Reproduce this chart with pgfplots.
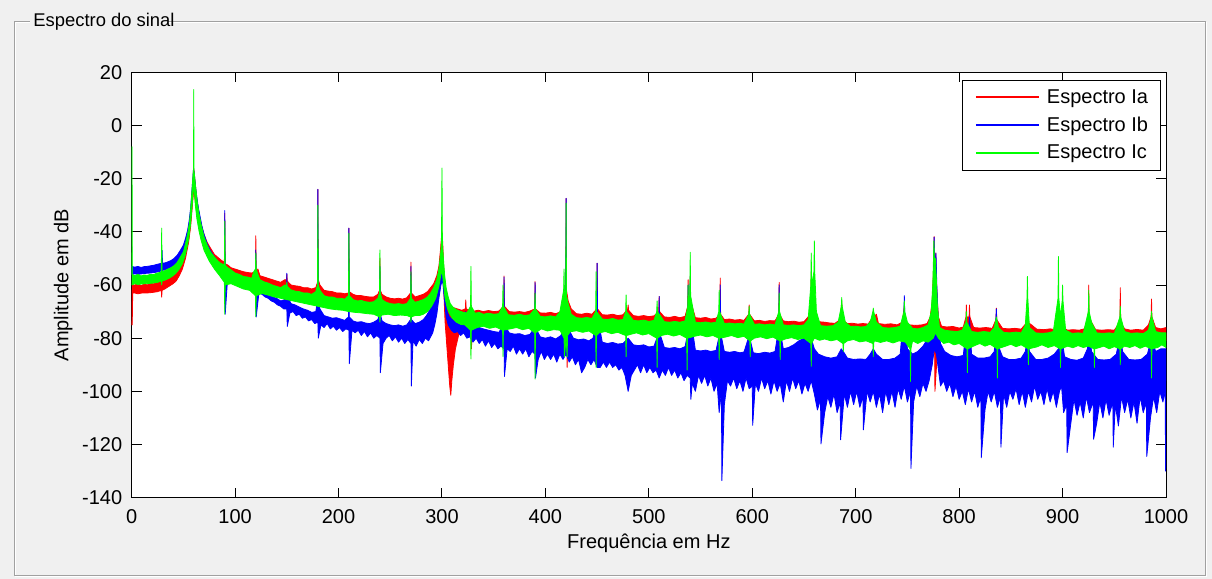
\documentclass[border=0pt]{standalone}
\usepackage{fontspec}
\setmainfont{Liberation Sans}
\usepackage{pgfplots}
\pgfplotsset{compat=1.18}
\definecolor{mred}{RGB}{255,0,0}
\definecolor{mblue}{RGB}{0,0,255}
\definecolor{mgreen}{RGB}{0,255,0}
\definecolor{bgc}{RGB}{240,240,240}
\definecolor{framec}{RGB}{160,160,160}
\begin{document}
\begin{tikzpicture}
\fill[bgc] (-65.85pt,-40.65pt) rectangle (540.15pt,248.85pt);
\draw[white, line width=0.5pt] (-50.85pt,237.35pt) -- (-57.85pt,237.35pt) -- (-57.85pt,-39.15pt) -- (537.15pt,-39.15pt) -- (537.15pt,237.35pt) -- (18.15pt,237.35pt);
\draw[framec, line width=0.5pt] (-50.85pt,237.85pt) -- (-58.35pt,237.85pt) -- (-58.35pt,-38.65pt) -- (536.65pt,-38.65pt) -- (536.65pt,237.85pt) -- (18.15pt,237.85pt);
\node[anchor=base west, inner sep=0pt, font=\fontsize{9.2}{11}\selectfont] at (-49.35pt,235.6pt) {Espectro do sinal};
\begin{axis}[
  at={(0pt,0pt)}, anchor=south west,
  width=517.15pt, height=212.7pt, scale only axis,
  xmin=0, xmax=1000, ymin=-140, ymax=20,
  xtick={0,100,...,1000}, ytick={-140,-120,...,20},
  tick align=inside, major tick length=5pt,
  every tick/.style={black, line width=0.5pt},
  axis line style={black, line width=0.5pt},
  axis background/.style={fill=white},
  ticklabel style={font=\fontsize{10}{12}\selectfont},
  xticklabel style={yshift=-2.2pt},
  yticklabel style={xshift=-1.2pt},
  /pgf/number format/assume math mode=true,
  /pgf/number format/1000 sep={},
  xlabel={Frequência em Hz},
  ylabel={Amplitude em dB},
  label style={font=\fontsize{10}{12}\selectfont},
  xlabel style={at={(axis description cs:0.5,-0.119)}, anchor=base},
  ylabel style={at={(axis description cs:-0.0662,0.5)}, anchor=center},
  legend style={at={(axis description cs:1,1)}, anchor=north east, xshift=-2.5pt, yshift=-3.85pt,
    draw=black, line width=0.5pt, fill=white, font=\fontsize{10}{12}\selectfont,
    inner xsep=6.2pt, inner ysep=4.4pt, row sep=5.4pt, column sep=3.7pt,
    nodes={inner sep=0pt, anchor=base west}},
  legend cell align=left,
  legend image code/.code={\draw[#1] (0pt,0.3em) -- (31.3pt,0.3em);},
]
\addlegendimage{draw=mred, line width=1pt}\addlegendentry{Espectro Ia}
\addlegendimage{draw=mblue, line width=1pt}\addlegendentry{Espectro Ib}
\addlegendimage{draw=mgreen, line width=1pt}\addlegendentry{Espectro Ic}

% ---- Espectro Ia (upper envelope, then lower envelope back) ----
\addplot[forget plot, draw=mred, fill=mred, line width=0.4pt, line join=round] coordinates {
(0,-75) (0.5,-60) (3,-60) (6,-59.5) (9,-60.3) (12,-59.6) (15,-60) (18,-59.3) (21,-59.6) (24,-59) (27,-58.8) (28.6,-58.5) (29,-58) (29.4,-58.5) (32,-57.8) (35,-57) (38,-56.5) (41,-55.5) (44,-54) (47,-52) (50,-50) (52,-47) (54,-44) (56,-39) (57.5,-33) (58.5,-27) (59.3,-21) (59.8,-16) (60.3,-17) (61,-20) (62,-24) (63,-28) (65,-33) (67,-37) (70,-41) (73,-44) (76,-46) (80,-48.5) (83,-49.5) (86,-50.5) (89.6,-51.5) (90,-33) (90.4,-52) (93,-52.5) (96,-53.5) (100,-54) (104,-54.5) (108,-55) (112,-55.3) (116,-55.5) (119.6,-55) (120,-41.5) (120.4,-55) (122,-54) (124,-56.5) (128,-57) (132,-57.5) (136,-58) (140,-58.5) (144,-59) (148,-58) (149.6,-58) (150,-56) (150.4,-58.5) (154,-60) (158,-60.3) (162,-60.5) (166,-61) (170,-61) (174,-61.5) (178,-61) (179.6,-59) (180,-24) (180.4,-58) (182,-60) (186,-62) (190,-62.3) (194,-62.5) (198,-63) (202,-63) (206,-63.3) (209.6,-63) (210,-38.6) (210.4,-62.5) (214,-63.5) (218,-64) (222,-64) (226,-64.3) (230,-64.5) (234,-64.5) (238,-63.5) (239.6,-62) (240,-50) (240.4,-62) (242,-63.5) (246,-64.5) (250,-65) (254,-65.2) (258,-65) (262,-65.3) (266,-64.8) (269.6,-63) (270,-51.4) (270.4,-63) (274,-64.5) (278,-64) (282,-63.5) (286,-62.5) (289,-61) (292,-59.5) (295,-56.5) (297,-53) (298.5,-47) (299.5,-42) (300,-40) (300.7,-44) (301.5,-52) (302.5,-58) (304,-63) (306,-66) (308,-67.5) (311,-68.5) (315,-69) (319,-69.5) (322.6,-69) (323,-65.6) (323.4,-69) (327,-69.5) (331,-69.8) (335,-69.5) (340,-70) (345,-69.6) (350,-70) (355,-69.8) (359.6,-68) (360,-56.6) (360.4,-68) (365,-70) (370,-70.2) (375,-70) (380,-70.3) (385,-69.8) (389.6,-69) (390,-58.7) (390.4,-69) (395,-70.5) (400,-70.6) (405,-70.3) (410,-70.8) (415,-70) (418,-67) (419.6,-64) (420,-27.4) (420.4,-62) (422,-66) (425,-69) (430,-70.8) (435,-71) (440,-70.6) (445,-71) (449.6,-69) (450,-51.8) (450.4,-69) (455,-71.2) (460,-71.3) (465,-71) (470,-71.5) (475,-71.2) (479.6,-69) (480,-67.5) (480.4,-69.5) (485,-71.5) (490,-71.8) (495,-71.5) (500,-71.9) (505,-71.6) (509.6,-70) (510,-64.3) (510.4,-70) (515,-72) (520,-72.2) (525,-71.8) (530,-72.3) (535,-71.8) (537.6,-68) (538,-58) (538.4,-68) (539.6,-66) (540,-56.8) (540.4,-66) (545,-72.3) (550,-72.5) (555,-72.2) (560,-72.8) (565,-72.5) (568.6,-71) (569,-57.4) (569.4,-71) (573,-73) (578,-72.8) (583,-73.2) (588,-73) (592,-73.3) (596.6,-71) (597,-67.5) (597.4,-71) (602,-73.5) (607,-73.3) (612,-73.7) (617,-73.4) (622,-73.5) (625.6,-71) (626,-59) (626.4,-71) (630,-73.5) (635,-73.8) (640,-73.6) (645,-74) (650,-73.8) (654,-72) (656.6,-70) (657,-55) (657.4,-70) (659.6,-70) (660,-58) (660.4,-70) (664,-73.8) (670,-74) (675,-74.3) (680,-74.4) (685,-73) (686.5,-66) (687,-73) (692,-74.5) (697,-74.4) (702,-74.7) (707,-74.5) (712,-74.7) (716.6,-72) (717,-70) (717.4,-72) (720,-71) (722,-74.5) (728,-74.8) (734,-74.6) (740,-75) (745,-74) (747,-68) (747.4,-74) (752,-75) (758,-75.2) (764,-75) (769,-74.5) (772,-72) (774,-66) (775.4,-52) (775.8,-41.8) (776.4,-55) (777.4,-48) (778,-58) (779,-66) (780,-72) (783,-75.5) (788,-75.8) (794,-75.6) (800,-76.2) (804,-75.8) (806.6,-72) (807,-67.5) (807.4,-72) (809.6,-72) (810,-67.5) (810.4,-72) (814,-76) (820,-76.2) (826,-76) (832,-76.3) (835.6,-73) (836,-68.7) (836.4,-73) (838,-74) (842,-76.3) (848,-76.5) (854,-76.3) (860,-76.6) (865.6,-74) (866,-70) (866.4,-74) (870,-75) (875,-76.6) (882,-76.8) (888,-76.5) (893,-76.8) (896.1,-74) (896.5,-70) (896.9,-74) (900,-76) (905,-77) (910,-76.8) (916,-77) (921,-76.5) (924.9,-72) (925.3,-60) (925.7,-72) (928,-74) (932,-76.8) (938,-77) (944,-76.8) (950,-77) (955.4,-74) (955.8,-61) (956.2,-74) (960,-76.5) (966,-77) (972,-76.7) (978,-77) (983,-75) (985.6,-72) (986,-65.3) (986.4,-72) (990,-76) (995,-76.5) (1000,-76)
(1000,-81) (950,-81.5) (900,-81) (850,-80.5) (800,-80) (780,-79) (776.6,-100) (776.2,-80) (760,-79.5) (700,-79) (650,-78) (600,-77.5) (550,-77) (500,-76.5) (450,-76) (422,-75.5) (421,-91) (420.6,-75) (400,-75) (350,-74.5) (330,-74) (328.4,-84) (328,-74) (320,-76) (316,-79) (313,-84) (311,-90) (309.5,-96) (308.5,-101.5) (307.5,-98) (306,-90) (304.5,-82) (303,-74) (301.5,-60) (300,-52) (298,-60) (295,-64) (290,-66) (280,-68) (270,-69) (250,-69) (220,-68.5) (200,-67) (180,-66) (150,-63) (120,-60) (100,-58) (90,-56) (80,-52) (70,-45) (65,-37) (62,-30) (60,-24) (58.5,-31) (57,-38) (55,-44) (52,-50) (49,-54) (46,-56.5) (43,-58.5) (40,-59.5) (36,-60.5) (32,-61.5) (29.4,-62) (29,-64.6) (28.6,-62) (25,-62.5) (20,-62.8) (15,-63) (10,-63) (6,-63.3) (3,-63) (1,-63) (0.5,-75) (0,-75)
};

% ---- Espectro Ib ----
\addplot[forget plot, draw=mblue, fill=mblue, line width=0.4pt, line join=round] coordinates {
(0,-53) (3,-53.3) (6,-53) (9,-53.4) (12,-53.1) (15,-53) (18,-52.8) (21,-52.6) (24,-52.3) (27,-52) (29,-51.8) (29.4,-47) (29.8,-51.8) (32,-51.7) (35,-51.3) (38,-50.8) (41,-50) (44,-48.8) (47,-47) (50,-45) (52,-42.5) (54,-39.5) (55.5,-36) (57,-31) (58.3,-24) (59.3,-19) (59.8,-16) (60.4,-18) (61.2,-21) (62,-24) (63,-27) (64.5,-31) (66,-34) (68,-38) (70,-41) (73,-44.5) (76,-47) (80,-49.5) (83,-51) (86,-52.3) (89.6,-53.2) (90,-32) (90.4,-53.5) (93,-54.5) (96,-55.5) (100,-57) (104,-57.8) (108,-59) (112,-59.8) (116,-60.5) (119.6,-60) (120,-46.8) (120.4,-60) (122,-58) (124,-62) (128,-62.8) (132,-63.5) (136,-64.5) (140,-65) (144,-66) (148,-65.5) (149.6,-64) (150,-55.6) (150.4,-64) (154,-67) (158,-67.5) (162,-68.3) (166,-69) (170,-69.5) (174,-70.3) (178,-70) (179.6,-66) (180,-24) (180.4,-66) (182,-69) (186,-71.5) (190,-72) (194,-72.5) (198,-72.3) (202,-72.8) (206,-73.3) (209.6,-72) (210,-38.6) (210.4,-72) (214,-73.5) (218,-74) (222,-73.8) (226,-74.3) (230,-74.5) (234,-74) (238,-73) (239.6,-71) (240,-53) (240.4,-71) (242,-73.5) (246,-74.5) (250,-75) (254,-75.3) (258,-75) (262,-75.5) (266,-75) (269.6,-73) (270,-53) (270.4,-73) (274,-74.5) (278,-74) (282,-73) (285,-71.5) (288,-69.5) (291,-67) (294,-63.5) (296,-60) (298,-56) (299.5,-53) (300.5,-53) (302,-58) (303.5,-65) (305,-70) (307,-72) (310,-73) (313,-74) (316,-74.5) (320,-74) (323,-70) (324,-74) (328,-75) (332,-75.5) (336,-76) (340,-76.5) (345,-77) (350,-77.5) (355,-77.8) (359.6,-75) (360,-57) (360.4,-75) (365,-78) (370,-78.5) (375,-78.3) (380,-79) (385,-78.6) (389.6,-76) (390,-59) (390.4,-76) (395,-79.5) (400,-80) (405,-79.5) (410,-80.3) (415,-79) (418,-76) (419.6,-70) (420,-27.4) (420.4,-70) (423,-77) (427,-80) (432,-80.6) (437,-80.3) (442,-81) (446,-80) (449.6,-72) (450,-51.8) (450.4,-72) (455,-81.5) (460,-82) (465,-81.6) (470,-82.2) (475,-82) (480,-80) (485,-82.5) (490,-82.8) (495,-82.5) (500,-83.3) (505,-83) (509.6,-78) (510,-64.3) (510.4,-78) (515,-83.5) (520,-83.8) (525,-83.5) (530,-84) (535,-83.2) (537.6,-78) (538,-60) (538.4,-78) (539.6,-72) (540,-56.8) (540.4,-72) (545,-84.5) (550,-84.8) (555,-84.5) (560,-85) (565,-84.6) (568.6,-78) (569,-60) (569.4,-78) (573,-85) (578,-85.3) (583,-85) (588,-85.5) (592,-85.2) (597,-79) (601,-85.5) (606,-85.8) (612,-85.3) (617,-85.6) (622,-85) (625.6,-76) (626,-60) (626.4,-76) (630,-84) (635,-83.5) (640,-82.5) (645,-81) (650,-80) (654,-79.5) (657,-80) (660,-84) (664,-86) (670,-87) (676,-87.5) (682,-87) (686,-84) (688,-85) (692,-87.5) (698,-88) (704,-87.8) (710,-88) (714,-86) (717,-84) (720,-86) (726,-88) (732,-88) (738,-87.5) (743,-86) (746.6,-70) (747,-64) (747.4,-70) (750,-84) (755,-86) (760,-85) (765,-83) (770,-80) (773,-76) (775,-68) (775.8,-42) (776.4,-55) (777.6,-48) (778.4,-60) (780,-76) (782,-82) (786,-85) (792,-86.5) (798,-87) (804,-86.5) (807,-76) (808,-85) (810,-72) (812,-86) (818,-87.5) (824,-87.5) (830,-87) (834,-85) (836,-69) (837,-82) (842,-87) (848,-88) (854,-88) (860,-87.5) (864,-85) (866,-80) (868,-85) (874,-88) (880,-88) (886,-87.5) (892,-86) (896,-84) (900,-82) (902,-87) (908,-88) (914,-88.3) (920,-87.5) (924,-84) (925.6,-76) (928,-85) (934,-88) (940,-88.2) (946,-88) (952,-86) (955.8,-78) (958,-85) (964,-88) (970,-88.2) (976,-88) (982,-86) (986,-80) (990,-85) (995,-84) (1000,-84)
(1000,-96) (999.6,-130) (999.2,-100) (997,-104) (994,-100) (991,-108) (988,-102) (985,-110) (981.4,-124.5) (981,-104) (978,-108) (975,-102) (972,-112) (969,-104) (966,-110) (963,-103) (960,-108) (957,-102) (954,-113) (951,-105) (949,-121) (948.6,-104) (945,-109) (942,-103) (939,-110) (936,-104) (933,-112) (930,-118) (929.6,-104) (926,-108) (923,-102) (920,-110) (917,-104) (914,-109) (911,-103) (908,-112) (904.4,-123) (904,-105) (901,-108) (899,-98) (897,-100) (894,-106) (891,-100) (888,-104) (885,-99) (882,-105) (879,-100) (876,-103) (873,-98) (870,-104) (867,-100) (864,-106) (861,-100) (858,-105) (855,-99) (852,-103) (849,-100) (846,-106) (843,-101) (840.4,-121) (840,-102) (837,-106) (834,-100) (831,-104) (828,-100) (825,-107) (821.4,-125) (821,-102) (818,-106) (815,-100) (812,-104) (809,-99) (806,-105) (803,-100) (800,-103) (797,-98) (794,-102) (791,-97) (788,-100) (785,-96) (782,-98) (780,-92) (778,-86) (776,-84) (774,-90) (771,-96) (768,-100) (765,-97) (762,-102) (759,-98) (756,-104) (753.4,-129) (753,-100) (750,-104) (747,-98) (744,-103) (741,-99) (738,-106) (735,-100) (732,-105) (729,-100) (726,-108) (723,-101) (720,-106) (717,-100) (714,-104) (711,-100) (707.4,-114.5) (707,-102) (704,-106) (701,-100) (698,-105) (695,-100) (692,-106) (689,-101) (685.4,-118.2) (685,-104) (682,-108) (679,-101) (676,-106) (673,-102) (670,-108) (666.4,-119.8) (666,-103) (663,-107) (660,-101) (657,-96) (654,-100) (651,-97) (648,-101) (645,-96) (642,-99) (639,-95) (636,-100) (633,-96) (630,-104) (627,-97) (624,-100) (621,-96) (618,-101) (615,-96) (612,-99) (609,-95) (606,-100) (603,-97) (600.4,-112.8) (600,-98) (597,-99) (594,-95) (591,-100) (588,-96) (585,-99) (582,-95) (579,-98) (576,-96) (573,-105) (570.6,-133.6) (570.2,-100) (568,-108) (566,-97) (563,-100) (560,-95) (557,-98) (554,-94) (551,-97) (548,-94) (545,-100) (542,-97) (540.6,-103) (540,-95) (537,-94) (534,-96) (531,-93) (528,-95) (525,-92) (522,-94) (519,-91) (516,-94) (513,-92) (510,-95) (507,-92) (504,-93) (501,-91) (498,-93) (495,-90) (492,-93) (489,-90) (486,-92) (483,-94) (480,-100) (477,-94) (474,-91) (471,-92) (468,-90) (465,-91) (462,-89) (459,-91) (456,-89) (453,-91) (450,-91) (447,-88) (444,-90) (441,-88) (438,-91) (435,-93) (432,-88) (429,-90) (426,-87) (423,-89) (420,-86) (417,-88) (414,-86) (411,-89) (408,-86) (405,-88) (402,-86) (399,-88) (396,-85) (393,-88) (390.4,-95) (390,-86) (387,-85) (384,-87) (381,-84) (378,-86) (375,-84) (372,-86) (369,-83) (366,-85) (363,-84) (360.4,-94.4) (360,-84) (357,-83) (354,-84) (351,-82) (348,-83.5) (345,-81) (342,-83) (339,-80.5) (336,-82) (333,-80) (330,-81.5) (327,-79.5) (324,-80) (321,-78) (318,-79) (315,-77.5) (312,-78) (309,-77) (306,-75) (304,-72) (302,-64) (300.5,-58) (299,-60) (297,-65) (295,-71) (293,-75) (291,-78) (289,-79.5) (287,-81) (284,-80) (281,-82) (278,-80.5) (275,-83) (272,-81) (270.4,-98) (270,-82) (267,-80.5) (264,-82) (261,-80) (258,-81.5) (255,-79.5) (252,-81) (249,-79) (246,-80) (243,-82) (240.4,-93) (240,-80) (237,-79) (234,-80) (231,-78) (228,-79.5) (225,-77.5) (222,-79) (219,-77) (216,-78) (213,-77) (210.4,-89.6) (210,-77) (207,-76.5) (204,-77.5) (201,-76) (198,-77) (195,-75.5) (192,-76.5) (189,-74.5) (186,-76) (183,-75) (180.4,-80) (180,-74) (177,-74.5) (174,-73) (171,-73.5) (168,-72) (165,-72.5) (162,-71) (159,-71.5) (156,-70) (153,-70.5) (150.4,-75.6) (150,-69) (147,-69) (144,-68) (141,-67.5) (138,-66.5) (135,-66) (132,-65) (129,-64.5) (126,-63.5) (123,-63) (120.4,-72) (120,-62) (117,-61.5) (114,-61) (111,-60.5) (108,-60) (105,-59) (102,-58.5) (99,-57.5) (96,-57) (93,-56) (90.4,-71) (90,-55.5) (87,-54.5) (84,-53.5) (81,-52) (78,-50.5) (75,-48.5) (72,-45.5) (69,-42) (66,-37.5) (64,-33.5) (62,-28) (60.5,-21) (59.5,-22) (58.5,-27) (57,-34) (55,-40.5) (53,-44) (51,-46.5) (48,-49) (45,-51) (42,-52.3) (38,-53.3) (34,-54) (30,-54.5) (26,-55) (22,-55.3) (18,-55.5) (14,-55.6) (10,-55.8) (6,-56) (3,-55.8) (0,-56)
};

% ---- Espectro Ic ----
\addplot[forget plot, draw=mgreen, fill=mgreen, line width=0.4pt, line join=round] coordinates {
(0,-56) (0.3,-8) (0.6,-56) (3,-56.5) (6,-56) (9,-56.6) (12,-56.2) (15,-56.4) (18,-56) (21,-56.1) (24,-55.6) (27,-55.3) (28.6,-55) (29,-38.6) (29.4,-55) (32,-54.6) (35,-54) (38,-53.5) (41,-52.7) (44,-51.5) (47,-49.5) (50,-47.5) (52,-44.5) (54,-41) (56,-36) (57.5,-29) (58.5,-23) (59.4,-18) (59.8,-16) (60,13.5) (60.2,-17) (60.8,-19) (61.5,-22) (62.5,-25.5) (63.5,-29) (65,-33) (67,-37) (70,-42) (73,-45) (76,-47.5) (80,-49.5) (83,-50.8) (86,-51.8) (89.6,-52.5) (90,-36) (90.4,-52.5) (93,-53.5) (96,-54.3) (100,-55.5) (104,-56) (108,-56.8) (112,-57) (116,-57.5) (118,-55) (119.6,-54) (120,-48) (120.4,-54) (122,-56) (124,-58) (128,-58.8) (132,-59.3) (136,-60) (140,-60.5) (144,-61) (148,-60) (149.6,-60) (150,-59) (150.4,-60.5) (154,-61.8) (158,-62.3) (162,-62.5) (166,-63) (170,-63) (174,-63.5) (178,-62.5) (179.6,-60) (180,-30) (180.4,-60) (182,-62) (186,-64) (190,-64.5) (194,-64.5) (198,-65) (202,-65) (206,-65.3) (209.6,-64) (210,-40.5) (210.4,-64) (214,-65.5) (218,-66) (222,-65.8) (226,-66.3) (230,-66.5) (234,-66.3) (238,-65) (239.6,-63) (240,-46.8) (240.4,-63) (242,-65.5) (246,-66.5) (250,-67) (254,-67.2) (258,-67) (262,-67.3) (266,-67) (269.6,-65) (270,-55) (270.4,-65) (274,-66.5) (278,-66) (282,-65.5) (286,-64.5) (289,-63) (292,-61) (295,-58) (297,-54) (298.5,-49) (299.5,-44) (300,-16) (300.4,-44) (301.2,-49) (302.5,-56) (304,-61) (306,-64.5) (308,-67) (311,-68.5) (315,-69.5) (320,-70.2) (324,-70.5) (327.6,-68) (328,-53) (328.4,-68) (332,-70.6) (336,-70.3) (340,-71) (345,-70.6) (350,-71) (355,-70.8) (358.6,-68) (359,-60) (359.4,-68) (364,-71.2) (370,-71.4) (375,-71) (380,-71.5) (385,-71.2) (389.6,-69) (390,-63) (390.4,-69) (395,-71.8) (400,-72) (405,-71.6) (410,-72) (414,-70) (417.6,-62) (418,-54) (418.4,-62) (419.6,-64) (420,-29.2) (420.4,-64) (422,-67) (425,-71) (430,-72.3) (435,-72.5) (440,-72.2) (445,-72.6) (448.6,-70) (449,-55) (449.4,-70) (455,-72.8) (460,-73) (465,-72.6) (470,-73.2) (475,-73) (477.6,-70) (478,-63.7) (478.4,-70) (485,-73.3) (490,-73.5) (495,-73.2) (500,-73.7) (505,-73.3) (507.6,-70) (508,-66) (508.4,-70) (515,-73.8) (520,-74) (525,-73.7) (530,-74) (535,-73.5) (537.6,-68) (538,-60) (538.4,-68) (539.6,-64) (540,-47.7) (540.4,-64) (545,-74) (550,-74.2) (555,-73.9) (560,-74.3) (565,-74) (567.6,-70) (568,-62) (568.4,-70) (573,-74.5) (578,-74.3) (583,-74.6) (588,-74.4) (592,-74.7) (596.6,-71) (597,-68) (597.4,-71) (602,-74.8) (607,-74.6) (612,-75) (617,-74.7) (622,-75) (625.6,-70) (626,-63) (626.4,-70) (630,-75) (635,-75.2) (640,-75) (645,-75.3) (650,-75) (654,-73) (656.6,-60) (657,-48) (657.4,-60) (659.6,-55) (660,-43.4) (660.4,-55) (662,-70) (666,-75.3) (672,-75.5) (678,-75.3) (683,-74) (686.1,-68) (686.5,-64.7) (686.9,-68) (690,-74) (695,-75.6) (700,-75.5) (705,-75.8) (710,-75.6) (714,-74) (716.6,-70) (717,-68.7) (717.4,-70) (720,-74) (726,-76) (732,-76.2) (738,-76) (743,-75.5) (746.6,-70) (747,-66) (747.4,-70) (750,-74) (755,-76.3) (760,-76.5) (765,-76) (770,-75) (773,-70) (774.5,-60) (775.2,-50) (775.6,-43.4) (776.2,-52) (777,-50) (778,-58) (779,-68) (781,-76) (786,-77) (792,-77.3) (798,-77.5) (803,-77) (806.6,-74) (807,-70) (807.4,-74) (812,-77.5) (818,-77.8) (824,-77.5) (830,-77.8) (834,-76) (836,-72) (838,-76) (843,-77.8) (849,-78) (855,-77.7) (860,-78) (864,-75) (865.6,-65) (866,-56.8) (866.4,-65) (868,-76) (874,-78) (880,-78.2) (886,-78) (891,-77.5) (895.6,-65) (896,-49.3) (896.4,-65) (898,-72) (899.6,-66) (900,-60) (900.4,-66) (903,-77) (909,-78.2) (915,-78) (920,-78.2) (924.9,-70) (925.3,-62) (925.7,-70) (928,-74) (933,-78) (939,-78.2) (945,-78) (950,-78.3) (955.4,-72) (955.8,-68) (956.2,-72) (960,-77.5) (966,-78.2) (972,-78) (978,-78.3) (983,-77) (985.6,-72) (986,-70) (986.4,-72) (990,-77.5) (995,-78) (1000,-78)
(1000,-83.5) (996,-82.5) (992,-83.5) (986.4,-84) (986,-95) (985.6,-84) (980,-83) (975,-83.8) (970,-82.8) (965,-83.5) (960,-83) (956.2,-84) (955.8,-90) (955.4,-84) (950,-83.2) (945,-84) (940,-83) (935,-83.6) (931.2,-84) (930.8,-91) (930.4,-84) (925,-83) (920,-83.5) (915,-82.8) (910,-83.6) (905,-83) (898.4,-84) (898,-91) (897.6,-84) (892,-82.8) (886,-83.5) (880,-82.5) (875,-83.3) (867.4,-84) (867,-90) (866.6,-84) (860,-82.5) (855,-83.2) (850,-82.3) (845,-83) (837.4,-84) (837,-95) (836.6,-84) (830,-82.3) (825,-83) (820,-82) (815,-82.8) (808.4,-84) (808,-93) (807.6,-84) (800,-82) (795,-82.5) (790,-81.5) (785,-82) (780,-80) (777,-78) (775,-80) (770,-81.5) (765,-81) (760,-82) (755,-81) (753.4,-84) (753,-96.3) (752.6,-84) (748,-81.5) (742,-81) (736,-81.8) (730,-81) (724,-81.6) (718,-81) (717.4,-82) (717,-87) (716.6,-82) (710,-81) (704,-81.4) (698,-80.5) (692,-81) (688.4,-82) (688,-85) (687.6,-82) (682,-80.5) (676,-81) (670,-80.3) (665,-80.8) (660,-80) (657.4,-82) (657,-90.6) (656.6,-82) (650,-80) (644,-80.5) (638,-79.8) (632,-80.3) (627.4,-81) (627,-88) (626.6,-81) (620,-79.6) (614,-80.2) (608,-79.5) (602,-80) (598.4,-81) (598,-87) (597.6,-81) (592,-79.3) (586,-79.8) (580,-79) (574,-79.6) (568.4,-80) (568,-88) (567.6,-80) (562,-79) (556,-79.5) (550,-78.8) (544,-79.3) (537.4,-80) (537,-92) (536.6,-80) (530,-78.6) (524,-79.2) (518,-78.5) (512,-79) (508.4,-80) (508,-91) (507.6,-80) (500,-78.3) (494,-78.8) (488,-78) (482,-78.6) (478.4,-79) (478,-87) (477.6,-79) (470,-77.8) (464,-78.3) (458,-77.5) (452,-78) (449.4,-79) (449,-91) (448.6,-79) (442,-77.3) (436,-77.8) (430,-77.2) (424,-77.6) (421.4,-79) (421,-87) (420,-80) (418.4,-87) (418,-80) (414,-77) (408,-76.8) (402,-77.3) (396,-76.5) (390.4,-78) (390,-95.4) (389.6,-78) (384,-76.3) (378,-76.8) (372,-76) (366,-76.5) (359.4,-77) (359,-87) (358.6,-77) (352,-75.8) (346,-76.3) (340,-75.5) (334,-76) (328.4,-77) (328,-87.8) (327.6,-77) (322,-75) (318,-74.8) (314,-74) (310,-72.5) (307,-70.5) (305,-68.5) (303,-65) (301.5,-60) (300.3,-55) (299,-56) (297,-60.5) (294,-65) (290,-68) (286,-70) (282,-71) (278,-71.5) (274,-71.5) (270.4,-72) (270,-74) (269.6,-72) (266,-71.5) (260,-71.3) (254,-71.5) (248,-71) (242,-71.3) (240.4,-72) (240,-74) (239.6,-72) (234,-71) (228,-70.8) (222,-70.5) (216,-70.3) (210,-70) (204,-69.5) (198,-69.3) (192,-69) (186,-68.5) (180,-68) (174,-67.5) (168,-67) (162,-66.5) (156,-66) (150,-65.5) (144,-65) (138,-64.5) (132,-63.8) (126,-63.2) (120.4,-64) (120,-72) (119.6,-64) (114,-62) (108,-61.5) (102,-60.5) (96,-59.5) (90.4,-60) (90,-71) (89.6,-59) (85,-56.5) (80,-54) (75,-51) (70,-47) (67,-43) (65,-39.5) (63,-35) (61.5,-30) (60.5,-24) (59.5,-25) (58.5,-30) (57,-37) (55,-43) (52,-48.5) (49,-52) (46,-54) (43,-55.5) (40,-56.5) (36,-57.5) (32,-58.2) (29.4,-58.5) (29,-60) (28.6,-58.5) (25,-59) (20,-59.3) (15,-59.5) (10,-59.6) (6,-59.8) (3,-59.5) (0,-60)
};
\end{axis}
\end{tikzpicture}
\end{document}
